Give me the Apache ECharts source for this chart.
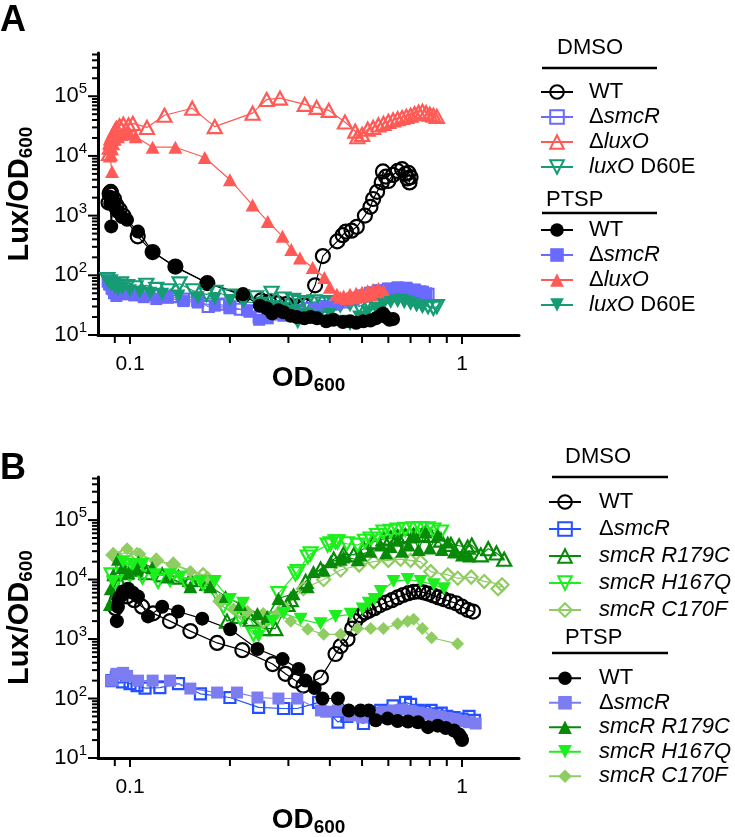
<!DOCTYPE html>
<html>
<head>
<meta charset="utf-8">
<script src="https://cdn.jsdelivr.net/npm/echarts@6/dist/echarts.min.js"></script>
<style>
  html, body { margin: 0; padding: 0; background: #fff; }
  #chart { width: 735px; height: 837px; }
</style>
</head>
<body>
<div id="chart"></div>
<script>
// axis ticks
const xMajorTicks = [0.1, 1];
const xMinorTicks = [0.09, 0.2, 0.3, 0.4, 0.5, 0.6, 0.7, 0.8, 0.9];
const yMajorTicks = [10, 100, 1000, 10000, 100000];
const yMinorTicks = [20, 30, 40, 50, 60, 70, 80, 90, 200, 300, 400, 500, 600, 700, 800, 900,
  2000, 3000, 4000, 5000, 6000, 7000, 8000, 9000, 20000, 30000, 40000, 50000, 60000, 70000, 80000, 90000,
  200000, 300000, 400000, 500000];

// legend labels
const aLegendLabels = ['{n|WT}', '{n|Δ}{i|smcR}', '{n|Δ}{i|luxO}', '{i|luxO}{n| D60E}'];
const bLegendLabels = ['{n|WT}', '{n|Δ}{i|smcR}', '{i|smcR R179C}', '{i|smcR H167Q}', '{i|smcR C170F}'];

// ---- panel A : [OD600, Lux/OD600] ----
const aWtDmso = [[0.0862,1650],[0.0868,2350],[0.0875,2500],[0.088,2250],[0.0895,1900],[0.091,1500],[0.093,1250],[0.0955,1000],
  [0.1055,450],[0.117,245],[0.137,140],[0.171,74],[0.219,46],[0.248,38],[0.262,36],[0.278,34],[0.295,33],[0.317,30],[0.336,31],
  [0.361,68],[0.381,210],[0.421,370],[0.437,470],[0.447,540],[0.465,560],[0.482,650],[0.51,1000],[0.53,1400],[0.54,1900],
  [0.555,2500],[0.573,3600],[0.578,5500],[0.59,4500],[0.60,3800],[0.62,4800],[0.64,5600],[0.66,6000],[0.675,5000],
  [0.685,4200],[0.695,3600],[0.70,4400],[0.69,5200]];
const aSmcrDmso = [[0.086,80],[0.0875,72],[0.089,60],[0.091,55],[0.094,62],[0.098,50],[0.105,52],[0.112,48],[0.122,45],[0.133,44],
  [0.145,40],[0.16,38],[0.172,30],[0.185,33],[0.20,29],[0.215,27],[0.23,25],[0.245,20],[0.26,22],[0.28,24],[0.30,25],[0.32,26],
  [0.35,28],[0.38,30],[0.41,33],[0.44,36],[0.47,40],[0.50,45],[0.53,50],[0.56,55],[0.60,58],[0.64,60],[0.68,58],[0.72,55],
  [0.76,52],[0.79,48]];
const aLuxoDmso = [[0.0865,11000],[0.087,14000],[0.0875,17000],[0.088,20000],[0.089,23000],[0.090,26000],[0.091,29000],
  [0.093,32000],[0.0955,34000],[0.099,33000],[0.102,35000],[0.1125,30000],[0.127,48000],[0.154,63000],[0.18,31000],
  [0.234,52000],[0.258,88000],[0.283,93000],[0.336,73000],[0.365,65000],[0.397,58000],[0.444,37000],[0.477,26000],
  [0.484,21000],[0.50,23000],[0.52,28000],[0.54,30000],[0.56,33000],[0.58,35000],[0.60,38000],[0.62,40000],[0.64,42000],
  [0.66,44000],[0.68,46000],[0.70,48000],[0.72,51000],[0.74,54000],[0.76,56000],[0.78,53000],[0.80,50000],[0.82,48000],[0.84,46000]];
const aD60eDmso = [[0.0855,85],[0.087,78],[0.089,70],[0.091,66],[0.094,72],[0.098,65],[0.104,62],[0.112,68],[0.120,58],[0.13,55],
  [0.141,72],[0.155,55],[0.17,48],[0.181,52],[0.20,45],[0.217,44],[0.24,42],[0.267,50],[0.29,40],[0.31,38],[0.323,35],[0.34,34],
  [0.36,36],[0.38,33],[0.40,35],[0.43,32],[0.46,34],[0.49,30],[0.52,36],[0.55,33],[0.58,38],[0.61,42],[0.64,40],[0.67,38],
  [0.70,36],[0.73,34],[0.76,32],[0.79,30],[0.82,28],[0.84,30]];
const aWtPtsp = [[0.0868,2100],[0.0872,1600],[0.0878,660],[0.089,1800],[0.0905,1300],[0.092,1150],[0.0945,950],[0.098,850],
  [0.1057,540],[0.1173,246],[0.1366,138],[0.1706,75],[0.219,48],[0.246,31],[0.258,28],[0.268,23],[0.28,26],[0.29,24],[0.305,21],
  [0.318,20],[0.335,19],[0.35,20],[0.366,19],[0.39,17],[0.41,18],[0.438,16.5],[0.46,17],[0.48,16],[0.505,17],[0.53,17.5],
  [0.55,19],[0.568,21],[0.578,23],[0.59,20],[0.605,18],[0.62,18.5]];
const aSmcrPtsp = [[0.0865,70],[0.088,60],[0.0895,50],[0.091,45],[0.093,55],[0.097,48],[0.103,46],[0.11,43],[0.12,40],[0.13,42],
  [0.145,37],[0.16,35],[0.18,31],[0.20,28],[0.225,26],[0.245,18],[0.26,19],[0.275,22],[0.29,21],[0.31,24],[0.33,23],[0.36,27],
  [0.39,30],[0.42,33],[0.45,38],[0.48,42],[0.51,46],[0.54,52],[0.57,56],[0.60,60],[0.64,63],[0.68,62],[0.72,58],[0.75,54],[0.78,50]];
const aLuxoPtsp = [[0.0883,5500],[0.087,10000],[0.088,13000],[0.089,16000],[0.090,19000],[0.092,21000],[0.094,23000],[0.097,24000],
  [0.100,23000],[0.104,21000],[0.117,14000],[0.137,14000],[0.168,9400],[0.20,4000],[0.234,1500],[0.26,800],[0.288,450],
  [0.306,270],[0.325,195],[0.355,135],[0.385,92],[0.40,63],[0.42,48],[0.43,43],[0.44,45],[0.45,41],[0.46,48],[0.47,42],
  [0.48,50],[0.49,44],[0.50,52],[0.51,45],[0.52,55],[0.53,47],[0.54,58],[0.55,48],[0.56,60],[0.57,50],[0.58,55]];
const aD60ePtsp = [[0.086,75],[0.088,68],[0.09,62],[0.092,58],[0.095,60],[0.1,55],[0.107,52],[0.115,50],[0.125,48],[0.14,45],
  [0.16,42],[0.18,40],[0.2,38],[0.22,36],[0.25,34],[0.27,30],[0.29,28],[0.31,24],[0.32,16],[0.34,22],[0.37,20],[0.40,22],
  [0.43,17],[0.46,15],[0.49,20],[0.52,24],[0.55,28],[0.58,32],[0.61,35],[0.64,37],[0.67,36],[0.70,33],[0.73,31],[0.76,29]];

// ---- panel B ----
const bWtDmso = [[0.0905,3300],[0.091,4300],[0.0925,5200],[0.095,6000],[0.098,5200],[0.103,4500],[0.1087,3500],[0.1174,2700],
  [0.132,2000],[0.152,1360],[0.183,860],[0.218,650],[0.269,380],[0.294,260],[0.315,200],[0.333,165],[0.376,225],[0.416,560],
  [0.431,760],[0.452,1000],[0.467,1500],[0.477,2000],[0.495,2500],[0.51,2800],[0.524,3000],[0.545,3300],[0.565,3700],[0.59,4100],
  [0.615,4500],[0.64,5000],[0.665,5500],[0.69,5900],[0.715,6200],[0.74,6300],[0.765,6100],[0.79,5800],[0.82,5400],[0.85,5000],
  [0.88,4700],[0.92,4300],[0.96,4000],[1.0,3500],[1.04,3100],[1.08,2900]];
const bSmcrDmso = [[0.0882,200],[0.091,230],[0.095,190],[0.1,178],[0.105,165],[0.111,150],[0.123,152],[0.14,178],[0.163,120],
  [0.2,104],[0.244,71],[0.29,68],[0.319,68],[0.37,86],[0.423,40],[0.45,50],[0.505,38],[0.54,55],[0.569,63],[0.62,75],[0.676,86],
  [0.70,80],[0.737,63],[0.77,60],[0.807,63],[0.84,55],[0.866,57],[0.9,50],[0.946,48],[1.0,45],[1.05,50],[1.09,43]];
const bR179cDmso = [[0.09,5000],[0.093,9000],[0.097,13000],[0.103,15000],[0.112,13000],[0.125,12000],[0.14,11000],[0.152,10000],
  [0.171,8600],[0.196,2000],[0.213,2400],[0.231,2150],[0.252,1500],[0.274,1500],[0.298,3800],[0.305,4600],[0.338,9300],
  [0.375,15000],[0.411,22000],[0.44,27000],[0.472,26000],[0.506,33000],[0.542,43000],[0.58,48000],[0.61,50000],[0.64,52000],
  [0.675,55000],[0.715,56000],[0.76,57000],[0.805,55000],[0.865,46000],[0.926,39000],[0.98,37000],[1.04,35000],[1.07,38000],
  [1.14,26000],[1.2,33000],[1.27,28000],[1.34,22000]];
const bH167qDmso = [[0.088,12000],[0.09,8600],[0.095,14000],[0.1,12000],[0.109,11000],[0.1215,9300],[0.132,10000],[0.149,8200],
  [0.166,8600],[0.191,3500],[0.215,2200],[0.2355,1200],[0.259,2200],[0.28,5800],[0.315,12500],[0.32,13600],[0.343,24000],
  [0.35,27000],[0.394,38000],[0.402,40000],[0.416,43000],[0.422,43000],[0.45,40000],[0.485,38000],[0.51,44000],[0.531,48000],
  [0.555,55000],[0.58,63000],[0.61,65000],[0.64,68000],[0.675,70000],[0.715,71000],[0.75,72000],[0.788,71000],[0.82,68000],[0.865,63000]];
const bC170fDmso = [[0.089,26000],[0.097,28000],[0.105,26000],[0.12,21000],[0.135,18000],[0.166,12000],[0.187,4300],[0.215,2900],
  [0.252,2000],[0.29,3300],[0.333,7000],[0.383,10000],[0.431,14500],[0.49,17500],[0.542,20000],[0.6,21000],[0.653,22000],
  [0.70,21000],[0.75,20000],[0.805,13600],[0.906,12000],[0.971,10500],[1.066,11000],[1.167,9300],[1.32,8200],[1.284,7000]];
const bWtPtsp = [[0.0913,2000],[0.092,3500],[0.093,5000],[0.0953,6300],[0.0987,7000],[0.102,6000],[0.1057,5200],[0.1133,2400],
  [0.125,3500],[0.1396,2900],[0.165,2200],[0.2004,1460],[0.242,680],[0.288,460],[0.322,315],[0.338,200],[0.36,150],[0.38,100],
  [0.423,100],[0.456,63],[0.495,63],[0.524,63],[0.55,43],[0.597,46],[0.64,42],[0.688,41],[0.737,40],[0.79,33],[0.845,35],
  [0.894,32],[0.946,29],[0.98,25],[0.995,22],[1.0,20]];
const bSmcrPtsp = [[0.0882,200],[0.091,260],[0.0953,270],[0.098,240],[0.1057,200],[0.117,200],[0.132,200],[0.152,147],
  [0.183,126],[0.21,126],[0.242,104],[0.28,100],[0.319,100],[0.376,63],[0.39,60],[0.423,63],[0.46,52],[0.5,48],[0.54,55],
  [0.58,60],[0.62,63],[0.66,65],[0.70,62],[0.74,58],[0.78,55],[0.82,52],[0.86,50],[0.9,47],[0.95,45],[1.0,42],[1.05,40],[1.1,38]];
const bR179cPtsp = [[0.087,3800],[0.0875,7000],[0.089,12000],[0.092,22000],[0.095,16000],[0.099,13000],[0.105,15000],
  [0.106,20000],[0.1166,16000],[0.13,11000],[0.152,7600],[0.1745,7600],[0.194,5200],[0.215,3800],[0.242,2700],[0.259,2400],
  [0.28,4800],[0.311,5800],[0.343,7600],[0.357,13600],[0.383,14500],[0.402,20000],[0.431,22000],[0.44,24000],[0.485,21500],
  [0.495,26000],[0.53,30000],[0.569,38000],[0.59,28000],[0.61,36000],[0.64,46000],[0.66,30000],[0.69,38000],[0.715,52000],
  [0.74,32000],[0.777,63000],[0.80,34000],[0.846,56000],[0.87,32000],[0.906,43000],[0.945,29000],[1.0,26000],[1.05,25000]];
const bH167qPtsp = [[0.0889,9300],[0.0946,4600],[0.0953,20000],[0.102,18000],[0.109,18000],[0.119,12000],[0.132,12000],
  [0.1416,11000],[0.163,9300],[0.18,9300],[0.2,4600],[0.219,4000],[0.244,1100],[0.2685,2000],[0.29,2700],[0.3265,2150],
  [0.375,1800],[0.416,2400],[0.462,2600],[0.502,3200],[0.5235,4000],[0.545,4600],[0.569,6300],[0.622,9300],[0.686,10000],
  [0.75,9300],[0.822,8200],[0.883,7000]];
const bC170fPtsp = [[0.089,27000],[0.098,33000],[0.107,27000],[0.12,20000],[0.135,18000],[0.152,13600],[0.171,11000],
  [0.187,4600],[0.205,3200],[0.226,2900],[0.252,2700],[0.278,2700],[0.305,2000],[0.343,1460],[0.383,1200],[0.431,1200],
  [0.485,1500],[0.531,1500],[0.58,1500],[0.64,1800],[0.686,2000],[0.715,2150],[0.76,1500],[0.81,1050],[0.97,830]];

const FONT = '"Liberation Sans", Arial, Helvetica, sans-serif';
const X_MIN = 0.0801, X_MAX = 1.485, Y_MIN = 10, Y_MAX = 530000;

const chart = echarts.init(document.getElementById('chart'));

function line(name, data, grid, color, symbol, open, size, rotate) {
  return {
    name: name, type: 'line', data: data, xAxisIndex: grid, yAxisIndex: grid,
    symbol: symbol, symbolSize: size, symbolRotate: rotate || 0,
    lineStyle: { color: color, width: 1.2 },
    itemStyle: open
      ? { color: 'rgba(255,255,255,0)', borderColor: color, borderWidth: 2.2 }
      : { color: color, borderColor: color, borderWidth: 0 },
    emphasis: { disabled: true },
    animation: false
  };
}

// tick marks drawn at axis values
function ticks(grid, axis, values, len) {
  return {
    type: 'custom', xAxisIndex: grid, yAxisIndex: grid, silent: true, clip: false, animation: false, z: 10,
    data: values.map(v => axis === 'y' ? [X_MIN, v] : [v, Y_MIN]),
    renderItem: function (params, api) {
      const p = api.coord([api.value(0), api.value(1)]);
      const shape = axis === 'y'
        ? { x1: p[0] - len, y1: p[1], x2: p[0], y2: p[1] }
        : { x1: p[0], y1: p[1], x2: p[0], y2: p[1] + len };
      return { type: 'line', shape: shape, style: { stroke: '#000', lineWidth: 2 } };
    }
  };
}

function isPow10(v) {
  const e = Math.log10(v);
  return Math.abs(e - Math.round(e)) < 1e-6;
}

function xAxis(grid, gap) {
  return {
    type: 'log', logBase: 10, gridIndex: grid, min: X_MIN, max: X_MAX,
    axisLine: { lineStyle: { color: '#000', width: 3 } },
    axisTick: { show: false }, splitLine: { show: false },
    axisLabel: {
      margin: 19, color: '#000', fontSize: 21, fontFamily: FONT,
      formatter: v => isPow10(v) ? (Math.round(Math.log10(v)) === -1 ? '0.1' : '1') : ''
    },
    name: '{b|OD}{s|600}', nameLocation: 'middle', nameGap: gap, nameMoveOverlap: false,
    nameTextStyle: {
      rich: {
        b: { fontSize: 28, fontWeight: 'bold', fontFamily: FONT, color: '#000' },
        s: { fontSize: 19, fontWeight: 'bold', fontFamily: FONT, color: '#000', padding: [14, 0, 0, 0] }
      }
    }
  };
}

function yAxis(grid) {
  return {
    type: 'log', logBase: 10, gridIndex: grid, min: Y_MIN, max: Y_MAX,
    axisLine: { lineStyle: { color: '#000', width: 3 } },
    axisTick: { show: false }, splitLine: { show: false },
    axisLabel: {
      margin: 11, color: '#000', fontFamily: FONT,
      formatter: v => isPow10(v) ? '{b|10}{s|' + Math.round(Math.log10(v)) + '}' : '',
      rich: {
        b: { fontSize: 22, fontFamily: FONT, color: '#000' },
        s: { fontSize: 15, fontFamily: FONT, color: '#000', padding: [0, 0, 14, 0] }
      }
    },
    name: '{b|Lux/OD}{s|600}', nameLocation: 'middle', nameGap: 62, nameMoveOverlap: false,
    nameTextStyle: {
      rich: {
        b: { fontSize: 29, fontWeight: 'bold', fontFamily: FONT, color: '#000' },
        s: { fontSize: 19, fontWeight: 'bold', fontFamily: FONT, color: '#000', padding: [14, 0, 0, 0] }
      }
    }
  };
}

const legendRich = (lh) => ({
  n: { fontSize: 22, fontFamily: FONT, color: '#000', lineHeight: lh },
  i: { fontSize: 22, fontFamily: FONT, color: '#000', fontStyle: 'italic', lineHeight: lh }
});

const labelOf = {};
function legend(names, labels, left, top, lh, pad) {
  names.forEach((n, k) => { labelOf[n] = labels[k]; });
  return {
    data: names, orient: 'vertical', left: left, top: top, padding: 0, itemGap: 0,
    itemWidth: 32, itemHeight: 17, selectedMode: false,
    formatter: n => labelOf[n],
    textStyle: { fontSize: 22, fontFamily: FONT, color: '#000', lineHeight: lh, padding: [0, 0, 0, pad], rich: legendRich(lh) }
  };
}

const A = { wt: '#000000', smcr: '#6a6aff', luxo: '#ff5a55', d60e: '#169c74' };
const B = { wt: '#000000', smcrOpen: '#2450ff', smcrFill: '#7d7df2', r179c: '#078a07', h167q: '#1cf01c', c170f: '#8fcd62' };
const invTri = 'path://M0,0 L20,0 L10,18 Z';

const series = [
  line('A DMSO WT', aWtDmso, 0, A.wt, 'circle', true, 14),
  line('A DMSO smcR', aSmcrDmso, 0, A.smcr, 'rect', true, 11),
  line('A DMSO luxO', aLuxoDmso, 0, A.luxo, 'triangle', true, [14, 13]),
  line('A DMSO D60E', aD60eDmso, 0, A.d60e, invTri, true, [14, 13]),
  line('A PTSP smcR', aSmcrPtsp, 0, A.smcr, 'rect', false, 12),
  line('A PTSP luxO', aLuxoPtsp, 0, A.luxo, 'triangle', false, [14, 13]),
  line('A PTSP D60E', aD60ePtsp, 0, A.d60e, invTri, false, [14, 13]),
  line('A PTSP WT', aWtPtsp, 0, A.wt, 'circle', false, 14),

  line('B DMSO WT', bWtDmso, 1, B.wt, 'circle', true, 14),
  line('B DMSO smcR', bSmcrDmso, 1, B.smcrOpen, 'rect', true, 11),
  line('B DMSO R179C', bR179cDmso, 1, B.r179c, 'triangle', true, [14, 13]),
  line('B DMSO H167Q', bH167qDmso, 1, B.h167q, invTri, true, [14, 13]),
  line('B DMSO C170F', bC170fDmso, 1, B.c170f, 'diamond', true, 13),
  line('B PTSP C170F', bC170fPtsp, 1, B.c170f, 'diamond', false, 13),
  line('B PTSP R179C', bR179cPtsp, 1, B.r179c, 'triangle', false, [14, 13]),
  line('B PTSP H167Q', bH167qPtsp, 1, B.h167q, invTri, false, [14, 13]),
  line('B PTSP smcR', bSmcrPtsp, 1, B.smcrFill, 'rect', false, 12),
  line('B PTSP WT', bWtPtsp, 1, B.wt, 'circle', false, 14),

  ticks(0, 'y', yMajorTicks, 10), ticks(0, 'y', yMinorTicks, 6),
  ticks(0, 'x', xMajorTicks, 9), ticks(0, 'x', xMinorTicks, 8),
  ticks(1, 'y', yMajorTicks, 10), ticks(1, 'y', yMinorTicks, 6),
  ticks(1, 'x', xMajorTicks, 9), ticks(1, 'x', xMinorTicks, 8)
];

function header(text, x, y) {
  return { type: 'text', x: x, y: y, style: { text: text, fontSize: 22, fontFamily: FONT, fill: '#000', verticalAlign: 'middle', textVerticalAlign: 'middle' } };
}
function rule(x1, x2, y) {
  return { type: 'line', shape: { x1: x1, y1: y, x2: x2, y2: y }, style: { stroke: '#000', lineWidth: 2.5 } };
}
function letter(text, y) {
  return { type: 'text', x: 0, y: y, style: { text: text, fontSize: 36, fontWeight: 'bold', fontFamily: FONT, fill: '#000', verticalAlign: 'middle', textVerticalAlign: 'middle' } };
}

chart.setOption({
  animation: false,
  grid: [
    { left: 98, top: 53, width: 421, height: 282, outerBoundsMode: 'none' },
    { left: 98, top: 477, width: 421, height: 281, outerBoundsMode: 'none' }
  ],
  xAxis: [xAxis(0, 27), xAxis(1, 46)],
  yAxis: [yAxis(0), yAxis(1)],
  legend: [
    legend(['A DMSO WT', 'A DMSO smcR', 'A DMSO luxO', 'A DMSO D60E'], aLegendLabels, 540, 79.5, 25, 11),
    legend(['A PTSP WT', 'A PTSP smcR', 'A PTSP luxO', 'A PTSP D60E'], aLegendLabels, 540, 217.5, 25, 11),
    legend(['B DMSO WT', 'B DMSO smcR', 'B DMSO R179C', 'B DMSO H167Q', 'B DMSO C170F'], bLegendLabels, 548, 488.5, 27, 13),
    legend(['B PTSP WT', 'B PTSP smcR', 'B PTSP R179C', 'B PTSP H167Q', 'B PTSP C170F'], bLegendLabels, 548, 666, 24.5, 13)
  ],
  graphic: [
    letter('A', 21), letter('B', 469),
    header('DMSO', 557, 48), rule(542, 657, 68),
    header('PTSP', 546, 200), rule(542, 657, 213),
    header('DMSO', 565, 457), rule(552, 668, 477),
    header('PTSP', 565, 638), rule(552, 668, 653)
  ],
  series: series
});
</script>
</body>
</html>
